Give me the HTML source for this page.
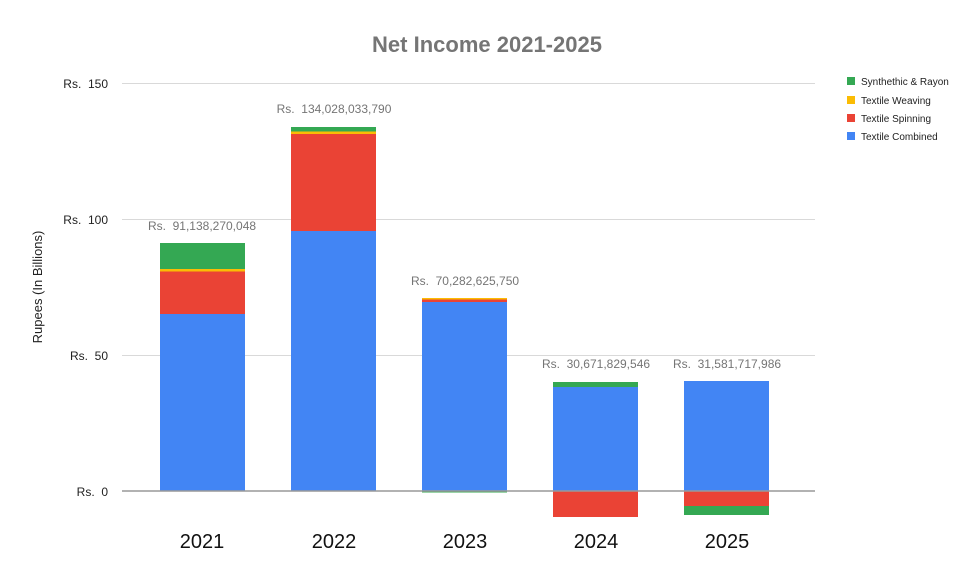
<!DOCTYPE html>
<html><head><meta charset="utf-8"><style>body{margin:0;background:#fff}svg{display:block}text{font-family:"Liberation Sans",sans-serif;white-space:pre}</style></head><body>
<svg width="975" height="581" xmlns="http://www.w3.org/2000/svg" xml:space="preserve">
<rect width="975" height="581" fill="#fff"/>
<text x="487" y="52" text-anchor="middle" font-size="22" font-weight="bold" fill="#757575">Net Income 2021-2025</text>
<g stroke="#d9d9d9" stroke-width="1">
<line x1="122" x2="815" y1="83.5" y2="83.5"/><line x1="122" x2="815" y1="219.5" y2="219.5"/><line x1="122" x2="815" y1="355.5" y2="355.5"/>
</g>
<g font-size="12" fill="#222" text-anchor="end">
<text x="108" y="88">Rs.  150</text><text x="108" y="224">Rs.  100</text><text x="108" y="360">Rs.  50</text><text x="108" y="496">Rs.  0</text>
</g>
<text transform="translate(42,287) rotate(-90)" text-anchor="middle" font-size="13" fill="#222">Rupees (In Billions)</text>
<rect x="160" y="243" width="85" height="26" fill="#34a853"/>
<rect x="160" y="269" width="85" height="2.5" fill="#fbbc04"/>
<rect x="160" y="271.5" width="85" height="42.5" fill="#ea4335"/>
<rect x="160" y="314" width="85" height="177" fill="#4285f4"/>
<rect x="291" y="127" width="85" height="4.5" fill="#34a853"/>
<rect x="291" y="131.5" width="85" height="2.5" fill="#fbbc04"/>
<rect x="291" y="134" width="85" height="97" fill="#ea4335"/>
<rect x="291" y="231" width="85" height="260" fill="#4285f4"/>
<rect x="422" y="298" width="85" height="1.5" fill="#fbbc04"/>
<rect x="422" y="299.5" width="85" height="2.5" fill="#ea4335"/>
<rect x="422" y="302" width="85" height="189" fill="#4285f4"/>
<rect x="422" y="491" width="85" height="1.5" fill="#34a853"/>
<rect x="553" y="382" width="85" height="5" fill="#34a853"/>
<rect x="553" y="387" width="85" height="104" fill="#4285f4"/>
<rect x="553" y="491" width="85" height="26" fill="#ea4335"/>
<rect x="684" y="381" width="85" height="110" fill="#4285f4"/>
<rect x="684" y="491" width="85" height="15" fill="#ea4335"/>
<rect x="684" y="506" width="85" height="9" fill="#34a853"/>
<line x1="122" x2="815" y1="491" y2="491" stroke="#999" stroke-width="1.5"/>
<g font-size="12" fill="#757575" text-anchor="middle">
<text x="202" y="230">Rs.  91,138,270,048</text>
<text x="334" y="113">Rs.  134,028,033,790</text>
<text x="465" y="285">Rs.  70,282,625,750</text>
<text x="596" y="368">Rs.  30,671,829,546</text>
<text x="727" y="368">Rs.  31,581,717,986</text>
</g>
<g font-size="20" fill="#111" text-anchor="middle">
<text x="202" y="548">2021</text><text x="334" y="548">2022</text><text x="465" y="548">2023</text><text x="596" y="548">2024</text><text x="727" y="548">2025</text>
</g>
<g font-size="10" fill="#222">
<rect x="847" y="77" width="8" height="8" fill="#34a853"/><text x="861" y="85">Synthethic &amp; Rayon</text>
<rect x="847" y="96" width="8" height="8" fill="#fbbc04"/><text x="861" y="104">Textile Weaving</text>
<rect x="847" y="114" width="8" height="8" fill="#ea4335"/><text x="861" y="122">Textile Spinning</text>
<rect x="847" y="132" width="8" height="8" fill="#4285f4"/><text x="861" y="140">Textile Combined</text>
</g>
</svg>
</body></html>
